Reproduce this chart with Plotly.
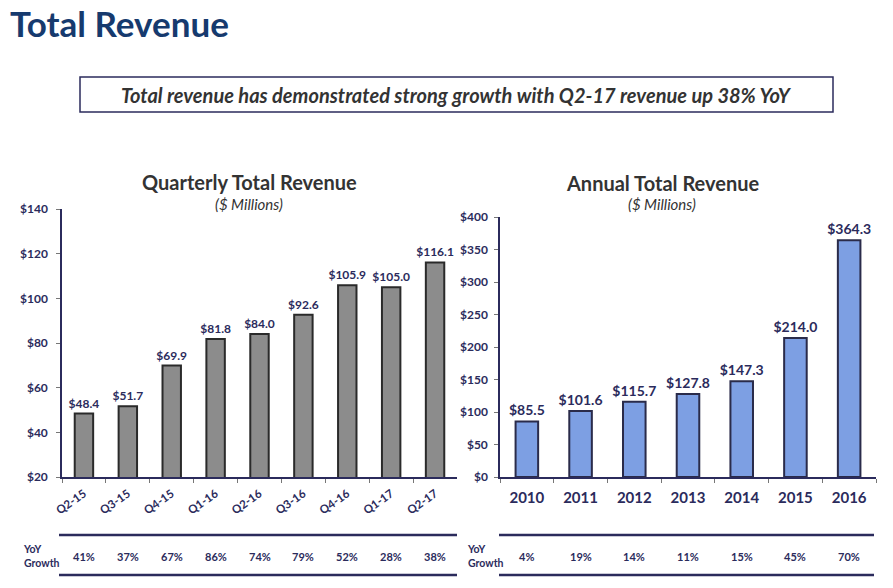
import plotly.graph_objects as go

W, H = 893, 588
OFF = 8  # page body margin offset

quarters = ["Q2-15", "Q3-15", "Q4-15", "Q1-16", "Q2-16", "Q3-16", "Q4-16", "Q1-17", "Q2-17"]
quarterly_revenue = [48.4, 51.7, 69.9, 81.8, 84.0, 92.6, 105.9, 105.0, 116.1]
quarterly_yoy = ["41%", "37%", "67%", "86%", "74%", "79%", "52%", "28%", "38%"]

years = ["2010", "2011", "2012", "2013", "2014", "2015", "2016"]
annual_revenue = [85.5, 101.6, 115.7, 127.8, 147.3, 214.0, 364.3]
annual_yoy = ["4%", "19%", "14%", "11%", "15%", "45%", "70%"]

NAVY = "#2b2b5c"
DARK = "#333333"
FONT = "Lato"


def px(x):
    return (x - OFF) / W


def py(y):
    return 1 - (y - OFF) / H


fig = go.Figure()

fig.add_trace(go.Bar(
    x=quarters, y=quarterly_revenue, xaxis="x", yaxis="y",
    marker=dict(color="#8c8c8c", line=dict(color="#2a2a2a", width=2)),
    texttemplate="$%{y:.1f}", textposition="outside", cliponaxis=False, constraintext="none",
    textfont=dict(family=FONT, size=12, color=NAVY, weight="bold"),
    width=0.42, showlegend=False,
))
fig.add_trace(go.Bar(
    x=years, y=annual_revenue, xaxis="x2", yaxis="y2",
    marker=dict(color="#7d9fe3", line=dict(color="#2a2b4a", width=2)),
    texttemplate="$%{y:.1f}", textposition="outside", cliponaxis=False, constraintext="none",
    textfont=dict(family=FONT, size=14, color=NAVY, weight="bold"),
    width=0.42, showlegend=False,
))

axis_common = dict(showgrid=False, zeroline=False, showline=True, linecolor=NAVY, linewidth=1.5,
                   ticks="outside", tickcolor="#777", ticklen=4, automargin=False)

fig.update_layout(
    width=W, height=H, margin=dict(l=0, r=0, t=0, b=0, autoexpand=False),
    paper_bgcolor="white", plot_bgcolor="white",
    xaxis=dict(domain=[px(62), px(457)], anchor="y", type="category", range=[-0.5, len(quarters) - 0.5],
               tickangle=-35, tickson="boundaries", ticklabelstandoff=4,
               tickfont=dict(family=FONT, size=11.5, color=NAVY, weight="bold"), **axis_common),
    yaxis=dict(domain=[py(477), py(209)], anchor="x", range=[20, 140], dtick=20, tickprefix="$",
               ticklabelstandoff=6,
               tickfont=dict(family=FONT, size=12, color=NAVY, weight="bold"), **axis_common),
    xaxis2=dict(domain=[px(500), px(876)], anchor="y2", type="category", range=[-0.5, len(years) - 0.5],
                tickangle=0, tickson="boundaries", ticklabelstandoff=6,
                tickfont=dict(family=FONT, size=15, color=NAVY, weight="bold"), **axis_common),
    yaxis2=dict(domain=[py(477), py(217)], anchor="x2", range=[0, 400], dtick=50, tickprefix="$",
                ticklabelstandoff=4,
                tickfont=dict(family=FONT, size=12, color=NAVY, weight="bold"), **axis_common),
)

annotations = [
    dict(text="<b>Total Revenue</b>", x=px(8), y=py(23), xanchor="left", yanchor="middle",
         font=dict(family=FONT, size=35, color="#163a6e")),
    dict(text="<b><i>Total revenue has demonstrated strong growth with Q2-17 revenue up 38% YoY</i></b>",
         x=px(456), y=py(95), xanchor="center", yanchor="middle",
         font=dict(family=FONT, size=20, color=DARK)),
    dict(text="<b>Quarterly Total Revenue</b>", x=px(249), y=py(182), xanchor="center", yanchor="middle",
         font=dict(family=FONT, size=20, color=DARK)),
    dict(text="<i>($ Millions)</i>", x=px(249), y=py(204), xanchor="center", yanchor="middle",
         font=dict(family=FONT, size=15, color=DARK)),
    dict(text="<b>Annual Total Revenue</b>", x=px(662), y=py(183), xanchor="center", yanchor="middle",
         font=dict(family=FONT, size=20, color=DARK)),
    dict(text="<i>($ Millions)</i>", x=px(662), y=py(204), xanchor="center", yanchor="middle",
         font=dict(family=FONT, size=15, color=DARK)),
    dict(text="<b>YoY<br>Growth</b>", x=px(21), y=py(556), xanchor="left", yanchor="middle", align="left",
         font=dict(family=FONT, size=10.5, color=NAVY)),
    dict(text="<b>YoY<br>Growth</b>", x=px(465), y=py(556), xanchor="left", yanchor="middle", align="left",
         font=dict(family=FONT, size=10.5, color=NAVY)),
]
for i, g in enumerate(quarterly_yoy):
    annotations.append(dict(text="<b>%s</b>" % g, x=i, xref="x", y=py(556), yref="paper",
                            xanchor="center", yanchor="middle", showarrow=False,
                            font=dict(family=FONT, size=11, color=NAVY)))
for i, g in enumerate(annual_yoy):
    annotations.append(dict(text="<b>%s</b>" % g, x=i, xref="x2", y=py(556), yref="paper",
                            xanchor="center", yanchor="middle", showarrow=False,
                            font=dict(family=FONT, size=11, color=NAVY)))
for a in annotations:
    a.setdefault("xref", "paper")
    a.setdefault("yref", "paper")
    a.setdefault("showarrow", False)
fig.update_layout(annotations=annotations)

shapes = [
    dict(type="rect", x0=px(80), x1=px(833), y0=py(112), y1=py(77),
         line=dict(color="#2b2b5c", width=1.5), fillcolor="rgba(0,0,0,0)"),
]
for yline in (535, 575):
    shapes.append(dict(type="line", x0=px(59), x1=px(457), y0=py(yline), y1=py(yline),
                       line=dict(color=NAVY, width=2.5)))
    shapes.append(dict(type="line", x0=px(499), x1=px(874), y0=py(yline), y1=py(yline),
                       line=dict(color=NAVY, width=2.5)))
for s in shapes:
    s["xref"] = "paper"
    s["yref"] = "paper"
fig.update_layout(shapes=shapes)

fig.write_html("out.html")
